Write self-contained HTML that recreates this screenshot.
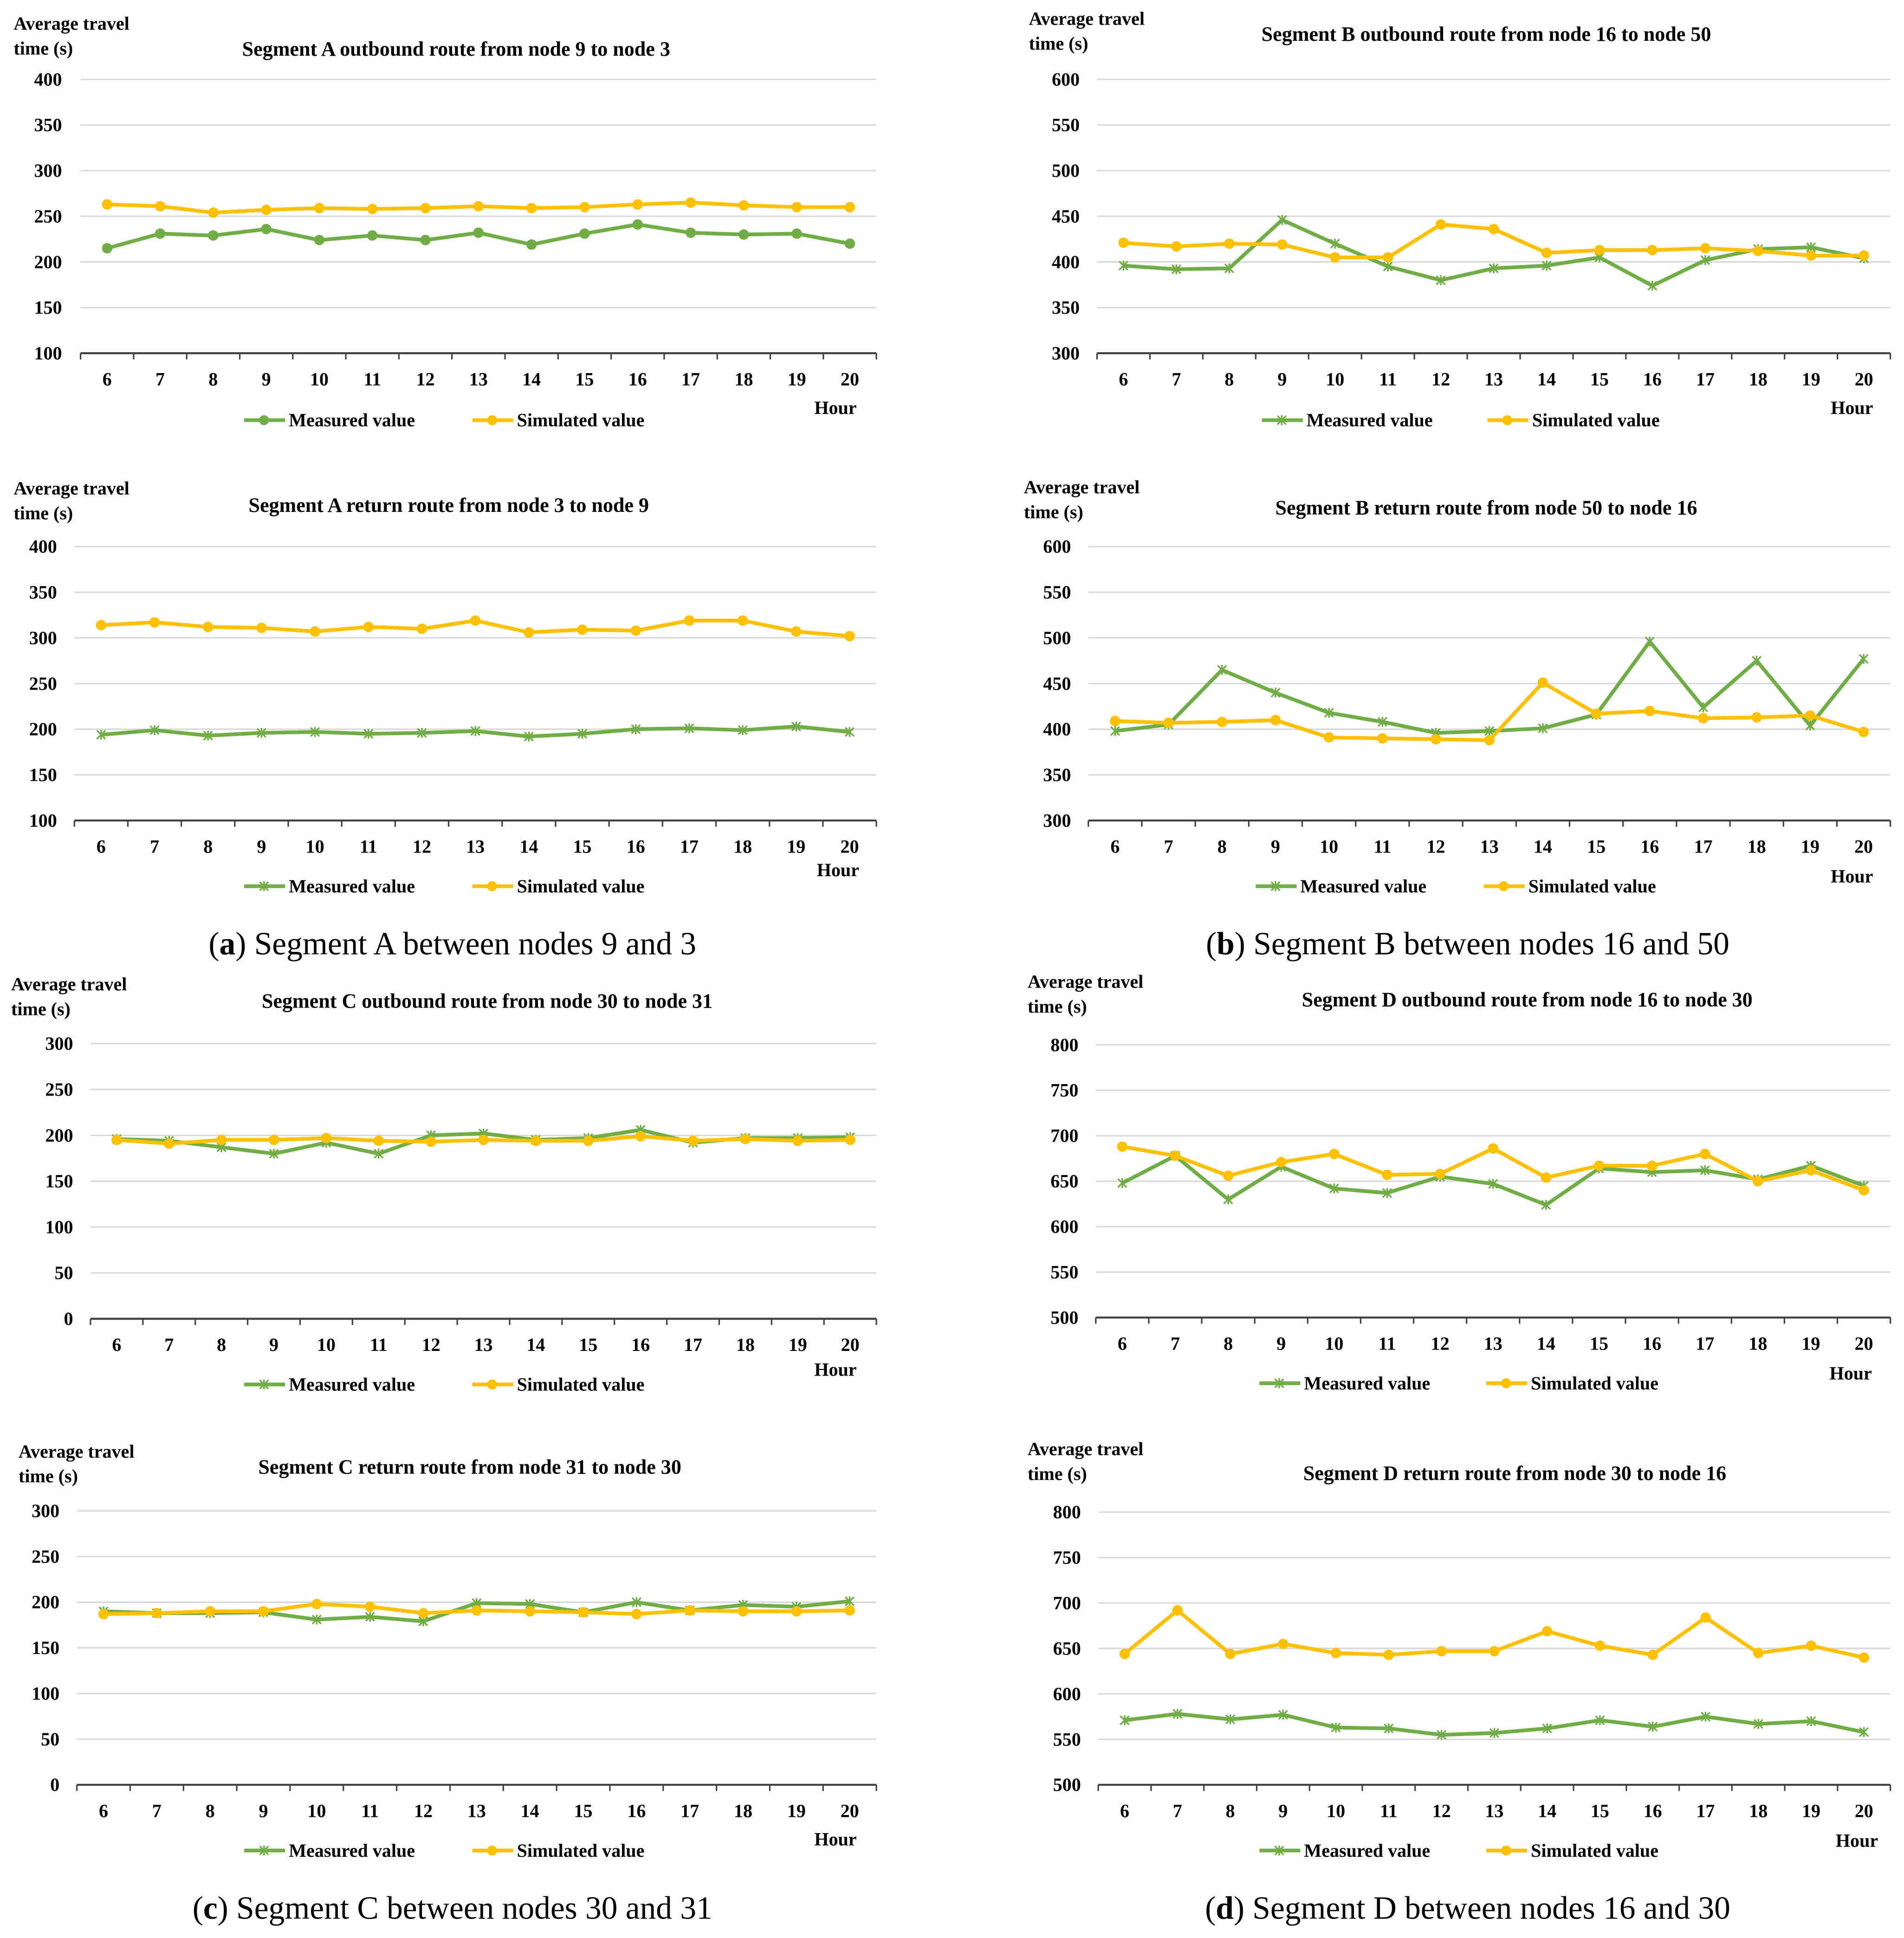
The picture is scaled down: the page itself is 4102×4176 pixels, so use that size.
<!DOCTYPE html>
<html><head><meta charset="utf-8"><style>
html,body{margin:0;padding:0;background:#fff;}
svg{display:block;}
svg text{font-family:"Liberation Serif","DejaVu Serif",serif !important;}
</style></head><body>
<svg id="root" width="4102" height="4176" viewBox="0 0 1536 1563.6" preserveAspectRatio="none" xmlns="http://www.w3.org/2000/svg" font-family="Liberation Serif, serif">
<rect width="1536" height="1563.6" fill="#fff"/>
<text x="365" y="770" font-size="26" text-anchor="middle" font-family="Liberation Serif, serif">(<tspan font-weight="bold">a</tspan>) Segment A between nodes 9 and 3</text>
<text x="1184" y="770" font-size="26" text-anchor="middle" font-family="Liberation Serif, serif">(<tspan font-weight="bold">b</tspan>) Segment B between nodes 16 and 50</text>
<text x="365" y="1548" font-size="26" text-anchor="middle" font-family="Liberation Serif, serif">(<tspan font-weight="bold">c</tspan>) Segment C between nodes 30 and 31</text>
<text x="1184" y="1548" font-size="26" text-anchor="middle" font-family="Liberation Serif, serif">(<tspan font-weight="bold">d</tspan>) Segment D between nodes 16 and 30</text>
</svg>
<script>
const hours = [6,7,8,9,10,11,12,13,14,15,16,17,18,19,20];
const titles = ["Segment A outbound route from node 9 to node 3","Segment A return route from node 3 to node 9","Segment B outbound route from node 16 to node 50","Segment B return route from node 50 to node 16","Segment C outbound route from node 30 to node 31","Segment C return route from node 31 to node 30","Segment D outbound route from node 16 to node 30","Segment D return route from node 30 to node 16"];
const yMins = [100,100,300,300,0,0,500,500];
const yMaxs = [400,400,600,600,300,300,800,800];
const yStep = 50;
const measuredA1 = [215,231,229,236,224,229,224,232,219,231,241,232,230,231,220];
const simulatedA1 = [263,261,254,257,259,258,259,261,259,260,263,265,262,260,260];
const measuredA2 = [194,199,193,196,197,195,196,198,192,195,200,201,199,203,197];
const simulatedA2 = [314,317,312,311,307,312,310,319,306,309,308,319,319,307,302];
const measuredB1 = [396,392,393,446,420,395,380,393,396,405,374,402,414,416,404];
const simulatedB1 = [421,417,420,419,405,405,441,436,410,413,413,415,412,407,407];
const measuredB2 = [398,405,465,440,418,408,396,398,401,416,496,424,475,404,477];
const simulatedB2 = [409,407,408,410,391,390,389,388,451,417,420,412,413,415,397];
const measuredC1 = [196,194,187,180,192,180,200,202,195,197,206,192,197,197,198];
const simulatedC1 = [195,191,195,195,197,194,193,195,194,194,199,194,196,194,195];
const measuredC2 = [190,188,188,189,181,184,179,199,198,189,200,191,197,195,201];
const simulatedC2 = [187,188,190,190,198,195,188,191,190,189,187,191,190,190,191];
const measuredD1 = [648,678,630,666,642,637,655,647,624,664,660,662,652,667,645];
const simulatedD1 = [688,678,656,671,680,657,658,686,654,667,667,680,650,662,640];
const measuredD2 = [571,578,572,577,563,562,555,557,562,571,564,575,567,570,558];
const simulatedD2 = [644,692,644,655,645,643,647,647,669,653,643,684,645,653,640];
const measuredAll = [measuredA1,measuredA2,measuredB1,measuredB2,measuredC1,measuredC2,measuredD1,measuredD2];
const simulatedAll = [simulatedA1,simulatedA2,simulatedB1,simulatedB2,simulatedC1,simulatedC2,simulatedD1,simulatedD2];

const layouts = [
 [65,707,64,285,368,45,11,24,339,197,381,674,334,50],
 [60,707,441,662,362,413,11,399,715,197,381,676,707,46],
 [885,1525,64,285,1199,33,830,20,339,1018,1200,1494,334,871],
 [878,1525,441,662,1199,415,826,398,715,1013,1197,1494,712,864],
 [73,707,842,1064,393,813,9,799,1117,197,381,674,1110,59],
 [62,707,1219,1440,379,1189,15,1176,1493,197,381,674,1489,48],
 [884,1525,843,1063,1232,812,829,797,1116,1016,1199,1493,1113,870],
 [886,1525,1220,1440,1222,1194,829,1174,1493,1016,1199,1498,1490,872]
];
const NS="http://www.w3.org/2000/svg";
const root=document.getElementById('root');
const GREEN="#70ad47", YEL="#ffc000";
function mk(tag,attrs,parent){const e=document.createElementNS(NS,tag);for(const k in attrs)e.setAttribute(k,attrs[k]);parent.appendChild(e);return e;}
function txt(parent,x,y,s,size,anchor,bold){const t=mk('text',{x:x,y:y,'font-size':size,'text-anchor':anchor,'font-weight':bold?'bold':'normal','font-family':'Liberation Serif, serif'},parent);t.textContent=s;return t;}
function star(g,x,y,col){
  mk('path',{d:`M${x-3.5},${y-3.5}L${x+3.5},${y+3.5}M${x-3.5},${y+3.5}L${x+3.5},${y-3.5}M${x},${y-4}L${x},${y+4}`,stroke:col,'stroke-width':1.3,fill:'none'},g);
}
for(let c=0;c<8;c++){
  const L=layouts[c];
  const [x0,x1,yT,yB,tx,ty,ax,ay,ly,lg,lyx,hx,hy,lx]=L;
  const g=mk('g',{},root);
  
  
  const ymin=yMins[c], ymax=yMaxs[c];
  const ys=v=>yB-(v-ymin)/(ymax-ymin)*(yB-yT);
  const bw=(x1-x0)/hours.length;
  const xs=i=>x0+bw*(i+0.5);
  for(let v=ymin;v<=ymax;v+=yStep){
    if(v>ymin){const gl=mk('line',{x1:x0,x2:x1,y1:ys(v),y2:ys(v),stroke:'#d9d9d9','stroke-width':1.2},g);
      
      }
    const t=txt(g,lx,ys(v)+5,String(v),15,'end',true);
    
    
  }
  const axl=mk('line',{x1:x0,x2:x1,y1:yB,y2:yB,stroke:'#404040','stroke-width':1.6},g);
  
  
  for(let i=0;i<=hours.length;i++){
    mk('line',{x1:x0+bw*i,x2:x0+bw*i,y1:yB,y2:yB+5,stroke:'#404040','stroke-width':1.2},g);
  }
  hours.forEach((h,i)=>{const t=txt(g,xs(i),yB+26,String(h),15,'middle',true);
    
    });
  const tt=txt(g,tx,ty,titles[c],16.5,'middle',true);
  
  
  const a1=txt(g,ax,ay,'Average travel',15,'start',true);
  
  
  const a2=txt(g,ax,ay+20,'time (s)',15,'start',true);
  
  
  const ht=txt(g,hx,hy,'Hour',15,'middle',true);
  
  
  const series=[[measuredAll[c],GREEN,'measured'],[simulatedAll[c],YEL,'simulated']];
  series.forEach(([arr,col,nm])=>{
    const pts=arr.map((v,i)=>xs(i).toFixed(1)+','+ys(v).toFixed(1)).join(' ');
    const pl=mk('polyline',{points:pts,fill:'none',stroke:col,'stroke-width':3,'stroke-linejoin':'round'},g);
    
    
    arr.forEach((v,i)=>{
      if(nm==='simulated'||c===0){const ci=mk('circle',{cx:xs(i),cy:ys(v),r:4.2,fill:col},g);
        
        }
      else star(g,xs(i),ys(v),col);
    });
  });
  const lgG=mk('g',{},g);
  
  
  mk('line',{x1:lg,x2:lg+33,y1:ly,y2:ly,stroke:GREEN,'stroke-width':3},lgG);
  if(c===0) mk('circle',{cx:lg+16,cy:ly,r:4,fill:GREEN},lgG); else star(lgG,lg+16,ly,GREEN);
  const m=txt(lgG,lg+36,ly+5,'Measured  value',15,'start',true);
  
  
  mk('line',{x1:lyx,x2:lyx+33,y1:ly,y2:ly,stroke:YEL,'stroke-width':3},lgG);
  mk('circle',{cx:lyx+16,cy:ly,r:4,fill:YEL},lgG);
  const s=txt(lgG,lyx+36,ly+5,'Simulated value',15,'start',true);
  
  
}
</script>
</body></html>
